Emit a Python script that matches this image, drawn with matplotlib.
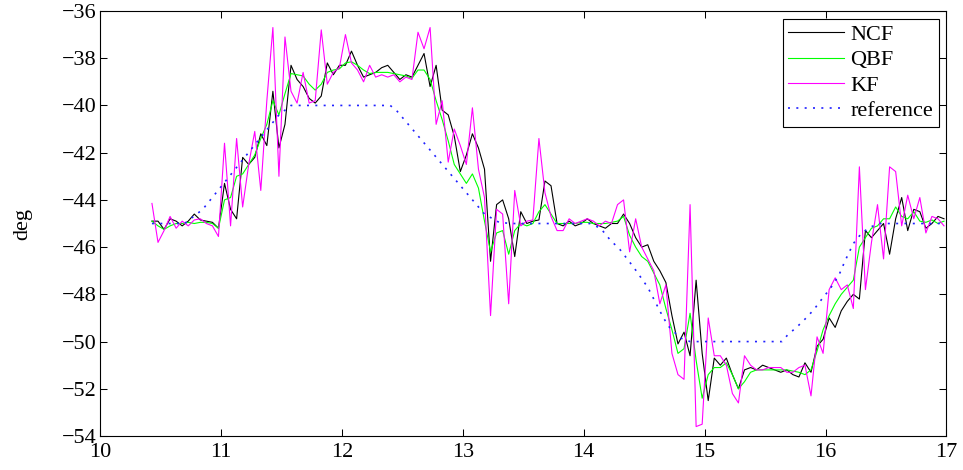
import numpy as np
import matplotlib
matplotlib.use("Agg")
import matplotlib.pyplot as plt

plt.rcParams['font.family'] = ['Liberation Serif', 'DejaVu Serif']
plt.rcParams['font.size'] = 16

# sample times (s)
t = np.round(10.43 + 0.05 * np.arange(132), 2)

# heading estimates, deg
ncf = [-44.9, -44.9, -45.25, -44.8, -44.9, -45.1, -44.9, -44.6, -44.85, -44.9,
       -44.95, -45.2, -43.3, -44.4, -44.8, -42.2, -42.5, -42.2, -41.2, -41.7,
       -39.4, -41.8, -40.8, -38.3, -38.9, -39.2, -39.7, -39.9, -39.6, -38.2,
       -38.7, -38.3, -38.3, -37.7, -38.3, -38.8, -38.7, -38.6, -38.4, -38.3,
       -38.6, -38.9, -38.7, -38.8, -38.3, -37.8, -39.2, -38.3, -40.2, -40.4,
       -41.3, -42.8, -42.1, -41.2, -41.8, -42.7, -46.6, -44.2, -44.0, -44.8,
       -46.4, -44.5, -45.0, -44.9, -44.85, -43.2, -43.4, -45.0, -45.1, -44.9,
       -45.1, -45.0, -44.8, -45.0, -45.1, -45.2, -45.0, -45.0, -44.6, -45.0,
       -45.6, -46.0, -45.9, -46.6, -47.0, -47.5, -48.9, -50.1, -49.6, -50.6,
       -47.4, -50.5, -52.5, -50.7, -51.0, -50.7, -51.4, -52.0, -51.2, -51.1,
       -51.2, -51.0, -51.1, -51.2, -51.3, -51.2, -51.4, -51.5, -50.9, -51.3,
       -50.2, -49.9, -49.0, -49.4, -48.7, -48.3, -48.0, -48.2, -45.3, -45.6,
       -45.3, -45.0, -46.3, -44.8, -43.9, -45.3, -44.4, -44.5, -45.2, -45.0,
       -44.7, -44.8]

qbf = [-44.9, -45.1, -45.25, -45.1, -45.0, -45.0, -44.95, -45.0, -44.95, -44.95,
       -45.0, -45.2, -44.0, -43.9, -43.0, -42.9, -42.5, -42.1, -41.4, -40.8,
       -39.8, -40.4, -39.5, -38.65, -38.7, -38.75, -39.1, -39.35, -39.1, -38.6,
       -38.5, -38.45, -38.2, -38.15, -38.3, -38.5, -38.65, -38.6, -38.6, -38.6,
       -38.65, -38.7, -38.75, -38.85, -38.5, -38.5, -38.9, -39.8, -40.6, -41.5,
       -42.5, -42.9, -43.3, -42.9, -43.5, -44.9, -46.2, -45.4, -45.3, -46.3,
       -45.3, -45.0, -45.1, -45.0, -44.5, -44.2, -44.6, -45.0, -45.0, -45.0,
       -45.0, -44.95, -44.95, -45.0, -45.0, -45.0, -44.95, -44.9, -44.7, -45.5,
       -46.0, -46.4, -46.6, -47.1, -47.6, -48.6, -49.5, -50.5, -50.3, -48.8,
       -50.8, -52.4, -51.4, -51.1, -51.1, -50.9, -51.4, -52.0, -51.7, -51.3,
       -51.2, -51.2, -51.2, -51.2, -51.2, -51.2, -51.25, -51.3, -51.4, -51.2,
       -50.4, -49.5, -48.9, -48.4, -48.0, -47.7, -47.4, -46.0, -45.6, -45.2,
       -45.1, -44.8, -44.8, -44.3, -44.7, -44.8, -44.5, -44.9, -44.95, -44.85,
       -45.0, -44.9]

kf = [-44.15, -45.8, -45.3, -44.7, -45.2, -44.9, -45.1, -44.85, -44.8, -45.0,
      -45.1, -45.55, -41.6, -45.1, -41.4, -44.3, -42.5, -41.1, -43.6, -39.8,
      -36.7, -43.0, -37.1, -39.4, -39.9, -38.6, -39.9, -39.8, -36.8, -39.1,
      -38.6, -38.4, -37.0, -38.2, -38.5, -39.0, -38.3, -38.8, -38.7, -38.8,
      -38.7, -39.0, -38.8, -38.9, -36.9, -37.6, -36.7, -40.8, -39.8, -42.4,
      -41.0, -41.7, -42.5, -40.1, -42.7, -43.9, -48.9, -44.4, -44.6, -48.4,
      -43.6, -45.1, -44.9, -44.85, -41.4, -43.7, -44.7, -45.3, -45.3, -44.8,
      -45.0, -44.9, -44.8, -44.9, -45.1, -44.9, -45.0, -44.2, -44.0, -46.2,
      -44.8, -46.0, -46.5, -47.0, -48.4, -47.6, -50.5, -51.4, -51.6, -44.2,
      -53.6, -53.5, -49.0, -50.6, -50.6, -51.0, -52.2, -52.6, -50.6, -51.0,
      -51.2, -51.2, -51.1, -51.1, -51.1, -51.3, -51.3, -51.1, -51.0, -52.3,
      -49.8, -50.5, -47.8, -47.3, -47.8, -47.6, -48.6, -42.6, -47.8, -45.8,
      -44.2, -46.5, -42.6, -42.8, -45.1, -43.8, -44.8, -43.9, -45.4, -44.7,
      -44.8, -45.1]

ref_t = [10.43, 10.70, 10.80, 10.85, 11.48, 11.58, 12.40, 12.45, 13.18, 13.30,
         13.40, 14.05, 14.14, 14.22, 14.30, 14.42, 14.53, 14.60, 14.66, 14.71,
         14.80, 14.88, 15.64, 15.69, 15.76, 15.83, 15.90, 15.97, 16.04, 16.11,
         16.16, 16.23, 16.30, 16.37, 16.45, 16.98]
ref_v = [-45.0, -45.0, -44.6, -44.4, -40.4, -40.0, -40.0, -40.2, -44.6, -44.95,
         -45.0, -45.0, -45.2, -45.7, -46.1, -46.9, -47.7, -48.4, -49.0, -49.4,
         -49.85, -50.0, -50.0, -49.7, -49.4, -49.05, -48.67, -48.2, -47.75, -47.2,
         -46.6, -45.85, -45.4, -45.15, -45.0, -45.0]

fig = plt.figure(figsize=(9.63, 4.70), dpi=100)
ax = fig.add_axes([0.1038, 0.0723, 0.8790, 0.9043])

ax.plot(t, ncf, color='black', lw=0.8, label='NCF')
ax.plot(t, qbf, color='#00ff00', lw=0.8, label='QBF')
ax.plot(t, kf, color='#ff00ff', lw=0.8, label='KF')
ax.plot(ref_t, ref_v, color='#2020ff', lw=1.2, linestyle=(0, (1.2, 3.8)), label='reference')

ax.set_xlim(10, 17)
ax.set_ylim(-54, -36)
ax.set_xticks(range(10, 18))
ax.set_yticks(range(-54, -35, 2))
ax.tick_params(direction='in', top=True, right=True, length=5, width=0.75, labelsize=16)
ax.tick_params(axis='x', pad=5)
ax.tick_params(axis='y', pad=2.5)
for s in ax.spines.values():
    s.set_linewidth(0.8)
ax.set_ylabel('deg', labelpad=21)

leg = ax.legend(loc='upper right', fancybox=False, framealpha=1, edgecolor='black',
                fontsize=16, labelspacing=0.22, borderpad=0.25, handlelength=2.5,
                handletextpad=0.3, borderaxespad=0.35)
leg.get_frame().set_linewidth(0.8)

fig.savefig('out.png', dpi=100)
